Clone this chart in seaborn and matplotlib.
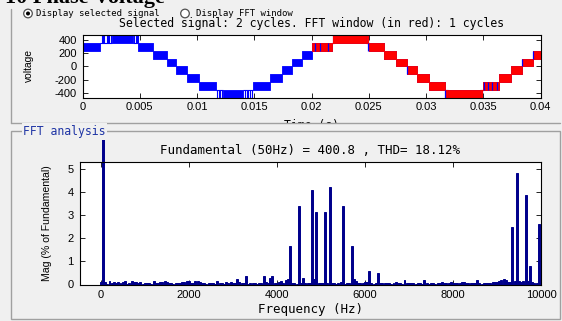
import numpy as np
import pandas as pd
import matplotlib
matplotlib.use("Agg")
import matplotlib.pyplot as plt
from matplotlib.patches import Rectangle, Circle
from matplotlib.transforms import Bbox, TransformedBbox
import seaborn as sns

W, H, DPI = 562, 321, 100
BG = "#f0f0f0"
FRAME = "#a0a0a0"
BLUE = "#0000ff"
RED = "#ff0000"
NAVY = "#00008c"
MONO = ["DejaVu Sans Mono"]
SANS = ["Liberation Sans", "DejaVu Sans"]

# ---------------- selected signal: multilevel phase voltage ----------------
STEP_V = 117.5          # voltage of one inverter level
# solid PWM bands: start [ms], end [ms], lower level index (band spans k..k+1)
cycle1_bands = [
    (0.00, 1.55, 2), (2.55, 4.44, 3), (4.87, 6.20, 2), (6.20, 7.35, 1),
    (7.35, 8.20, 0), (8.20, 9.15, -1), (9.15, 10.20, -2), (10.20, 11.70, -3),
    (12.30, 14.05, -4), (14.90, 16.40, -3), (16.40, 17.40, -2), (17.40, 18.30, -1),
    (18.30, 19.20, 0), (19.20, 20.00, 1),
]
cycle2_bands = [
    (20.00, 21.80, 2), (22.00, 24.80, 3), (25.00, 26.35, 2), (26.35, 27.40, 1),
    (27.40, 28.30, 0), (28.30, 29.20, -1), (29.20, 30.30, -2), (30.30, 31.66, -3),
    (31.90, 34.70, -4), (35.00, 36.40, -3), (36.40, 37.45, -2), (37.45, 38.35, -1),
    (38.35, 39.35, 0), (39.35, 40.00, 1),
]
# sparse switching near the peaks: start [ms], end [ms], level index
cycle1_sparse = [(1.55, 2.55, 3), (4.44, 4.87, 3), (11.70, 12.30, -4), (14.05, 14.90, -4)]
cycle2_sparse = [(21.80, 22.00, 3), (24.80, 25.00, 3), (31.66, 31.90, -4), (34.70, 35.00, -4)]
# individual switching pulses: time [ms], level index
cycle1_pulses = [
    (1.73, 3), (1.82, 3), (1.90, 3), (2.11, 3), (2.25, 3), (2.34, 3), (2.46, 3),
    (4.50, 3), (4.65, 3), (4.73, 3), (4.82, 3),
    (11.72, -4), (11.90, -4), (12.00, -4), (12.16, -4),
    (14.19, -4), (14.34, -4), (14.48, -4), (14.63, -4), (14.80, -4),
]
cycle2_pulses = [(21.85, 3), (21.95, 3), (24.87, 3), (24.95, 3),
                 (31.72, -4), (31.82, -4), (34.78, -4), (34.90, -4)]
# selected-signal samples showing through the FFT window trace
overlap_pulses = [(20.30, 2), (20.70, 2), (21.45, 2), (24.95, 2), (28.30, -1),
                  (31.66, -4), (35.10, -3), (35.40, -3), (35.75, -3), (36.20, -3),
                  (38.38, 0), (39.35, 1)]

time_ticks = [0, 0.005, 0.01, 0.015, 0.02, 0.025, 0.03, 0.035, 0.04]
time_labels = ["0", "0.005", "0.01", "0.015", "0.02", "0.025", "0.03", "0.035", "0.04"]
volt_ticks = [-400, -200, 0, 200, 400]

# ---------------- FFT analysis: harmonic magnitudes (% of fundamental) ----------------
FREQ_STEP = 50
harmonic_mag = [
    0.10, 100.0, 0.12, 0.04, 0.17, 0.06, 0.10, 0.08, 0.11, 0.05,   # 0 - 450 Hz
    0.09, 0.14, 0.04, 0.07, 0.15, 0.09, 0.12, 0.05, 0.10, 0.04,   # 500 - 950
    0.06, 0.05, 0.08, 0.04, 0.15, 0.06, 0.05, 0.09, 0.12, 0.13,   # 1000 - 1450
    0.12, 0.05, 0.06, 0.04, 0.07, 0.05, 0.06, 0.10, 0.12, 0.17,   # 1500 - 1950
    0.15, 0.05, 0.08, 0.16, 0.13, 0.12, 0.05, 0.06, 0.04, 0.07,   # 2000 - 2450
    0.05, 0.06, 0.04, 0.13, 0.08, 0.05, 0.04, 0.09, 0.05, 0.10,   # 2500 - 2950
    0.05, 0.08, 0.22, 0.12, 0.05, 0.06, 0.36, 0.04, 0.05, 0.06,   # 3000 - 3450
    0.05, 0.04, 0.05, 0.06, 0.36, 0.12, 0.05, 0.28, 0.36, 0.08,   # 3500 - 3950
    0.05, 0.12, 0.15, 0.06, 0.20, 0.22, 1.65, 0.06, 0.05, 0.04,   # 4000 - 4450
    3.38, 0.05, 0.30, 0.05, 0.06, 0.05, 4.08, 0.22, 3.15, 0.08,   # 4500 - 4950
    0.05, 0.06, 3.15, 0.05, 4.20, 0.06, 0.05, 0.04, 0.05, 0.12,   # 5000 - 5450
    3.38, 0.04, 0.05, 0.06, 1.65, 0.25, 0.15, 0.05, 0.06, 0.05,   # 5500 - 5950
    0.12, 0.10, 0.60, 0.05, 0.04, 0.05, 0.50, 0.05, 0.06, 0.08,   # 6000 - 6450
    0.05, 0.07, 0.04, 0.06, 0.10, 0.05, 0.06, 0.04, 0.18, 0.08,   # 6500 - 6950
    0.05, 0.07, 0.05, 0.04, 0.05, 0.06, 0.04, 0.18, 0.05, 0.04,   # 7000 - 7450
    0.06, 0.05, 0.04, 0.05, 0.06, 0.10, 0.05, 0.08, 0.06, 0.09,   # 7500 - 7950
    0.07, 0.05, 0.08, 0.06, 0.09, 0.11, 0.05, 0.07, 0.06, 0.05,   # 8000 - 8450
    0.07, 0.18, 0.06, 0.04, 0.05, 0.06, 0.05, 0.08, 0.12, 0.10,   # 8500 - 8950
    0.12, 0.14, 0.20, 0.25, 0.18, 0.10, 0.12, 2.50, 0.15, 4.80,   # 9000 - 9450
    0.16, 0.12, 0.14, 3.85, 0.15, 0.80, 0.12, 0.06, 0.05, 2.60,   # 9500 - 9950
    0.05,                                                          # 10000
]
freq_hz = [FREQ_STEP * i for i in range(len(harmonic_mag))]
freq_ticks = [0, 2000, 4000, 6000, 8000, 10000]
mag_ticks = [0, 1, 2, 3, 4, 5]

# ---------------- figure ----------------
sns.set_theme(style="white")
plt.rcParams["font.family"] = SANS
plt.rcParams["axes.linewidth"] = 0.8
plt.rcParams["axes.edgecolor"] = "black"

fig = plt.figure(figsize=(W / DPI, H / DPI), dpi=DPI, facecolor=BG)


def px_axes(left, top, right, bottom, **kw):
    return fig.add_axes([left / W, 1 - bottom / H, (right - left) / W, (bottom - top) / H], **kw)


def style_axes(ax, xpad, ypad):
    ax.set_facecolor("white")
    ax.tick_params(axis="both", which="both", direction="in", length=3.5, width=0.6,
                   top=True, right=True, bottom=True, left=True,
                   labelsize=8, colors="black")
    ax.tick_params(axis="x", pad=xpad)
    ax.tick_params(axis="y", pad=ypad)
    for s in ax.spines.values():
        s.set_visible(True)
        s.set_color("black")
        s.set_linewidth(0.8)
    ax.grid(False)


# top axes: selected signal
ax1 = px_axes(82.5, 35, 540.5, 97.7, zorder=1)
style_axes(ax1, 3.0, 4.0)


def draw_trace(ax, bands, sparse, pulses, color):
    for t0, t1, k in bands:
        ax.fill_between([t0 / 1e3, t1 / 1e3], k * STEP_V, (k + 1) * STEP_V,
                        color=color, lw=0.6, zorder=2)
    for t0, t1, k in sparse:
        ax.hlines([k * STEP_V, (k + 1) * STEP_V], t0 / 1e3, t1 / 1e3,
                  color=color, lw=0.8, zorder=2)
    for t, k in pulses:
        ax.vlines(t / 1e3, k * STEP_V, (k + 1) * STEP_V, color=color, lw=0.8, zorder=2)


draw_trace(ax1, cycle1_bands + cycle2_bands, cycle1_sparse + cycle2_sparse,
           cycle1_pulses + cycle2_pulses, BLUE)
draw_trace(ax1, cycle2_bands, cycle2_sparse, cycle2_pulses, RED)
for t, k in overlap_pulses:
    ax1.vlines(t / 1e3, k * STEP_V, (k + 1) * STEP_V, color=BLUE, lw=0.9, zorder=3)

ax1.set_xlim(0, 0.04)
ax1.set_ylim(-4 * STEP_V, 4 * STEP_V)
ax1.set_xticks(time_ticks)
ax1.set_xticklabels(time_labels)
ax1.set_yticks(volt_ticks)
ax1.set_yticklabels([str(v) for v in volt_ticks])

# bottom axes: FFT spectrum
ax2 = px_axes(80, 162.3, 541, 284.5, zorder=3)
style_axes(ax2, 4.0, 4.5)
spec = pd.DataFrame({"freq": freq_hz, "mag": harmonic_mag})
sns.histplot(data=spec, x="freq", weights="mag", binwidth=FREQ_STEP,
             binrange=(-FREQ_STEP / 2, freq_hz[-1] + FREQ_STEP / 2), shrink=0.9,
             color=NAVY, edgecolor=NAVY, linewidth=0.7, alpha=1, ax=ax2)
ax2.set_xlim(-470, 10000)
ax2.set_ylim(0, 5.28)
ax2.set_xticks(freq_ticks)
ax2.set_xticklabels([str(f) for f in freq_ticks])
ax2.set_yticks(mag_ticks)
ax2.set_yticklabels([str(m) for m in mag_ticks])
ax2.set_xlabel("")
ax2.set_ylabel("")

# the fundamental bar runs past the axes up to the panel caption
fund = max(ax2.patches, key=lambda p: p.get_height())
fund.set_clip_path(None)
fund.set_clip_box(TransformedBbox(Bbox.from_extents(0, 0, 1, 1 - 140 / H), fig.transFigure))

# ---------------- GUI panels and texts ----------------
deco = fig.add_axes([0, 0, 1, 1], zorder=2)
deco.set_xlim(0, W)
deco.set_ylim(H, 0)
deco.axis("off")

deco.text(5, 3.5, "10 Phase Voltage", family=["Liberation Serif"], weight="bold",
          fontsize=16, va="baseline", ha="left", color="black", zorder=1)

# radio buttons
deco.add_patch(Circle((28, 13.5), 4.3, fc="white", ec="#505050", lw=0.9, zorder=3))
deco.add_patch(Circle((28, 13.5), 2.0, fc="black", ec="none", zorder=4))
deco.text(36.5, 13.8, "Display selected signal", family=MONO, fontsize=6.5,
          va="center", ha="left", color="black", zorder=3)
deco.add_patch(Circle((185, 13.5), 4.3, fc="white", ec="#505050", lw=0.9, zorder=3))
deco.text(195.5, 13.8, "Display FFT window", family=MONO, fontsize=6.5,
          va="center", ha="left", color="black", zorder=3)

deco.text(311.5, 23.5, "Selected signal: 2 cycles. FFT window (in red): 1 cycles",
          family=MONO, fontsize=8.3, va="center", ha="center", color="black", zorder=3)
deco.text(29, 66, "voltage", family=SANS, fontsize=7.4, rotation=90,
          va="center", ha="center", color="black", zorder=3)
deco.text(311.5, 126, "Time (s)", family=MONO, fontsize=8.3, va="center",
          ha="center", color="black", zorder=0.5)

# lower panel background hides the tail of the time label
deco.add_patch(Rectangle((0, 122.5), W, H, fc=BG, ec="none", zorder=1))
deco.plot([10.5, 10.5], [9, 122.5], color=FRAME, lw=1, zorder=2)
deco.plot([10.5, 560], [122.5, 122.5], color=FRAME, lw=1, zorder=2)
deco.add_patch(Rectangle((10.5, 131), 549, 187.5, fill=False, ec=FRAME, lw=1, zorder=2))
deco.text(23, 131, "FFT analysis", family=MONO, fontsize=8.3, va="center", ha="left",
          color="#1f35a5", zorder=3,
          bbox=dict(fc=BG, ec="none", pad=0.8))

deco.text(310, 150, "Fundamental (50Hz) = 400.8 , THD= 18.12%", family=MONO,
          fontsize=9, va="center", ha="center", color="black", zorder=3)
deco.text(310, 310, "Frequency (Hz)", family=MONO, fontsize=9, va="center",
          ha="center", color="black", zorder=3)
deco.text(47, 223, "Mag (% of Fundamental)", family=SANS, fontsize=7.6, rotation=90,
          va="center", ha="center", color="black", zorder=3)

fig.savefig("out.png", dpi=DPI, facecolor=BG)
